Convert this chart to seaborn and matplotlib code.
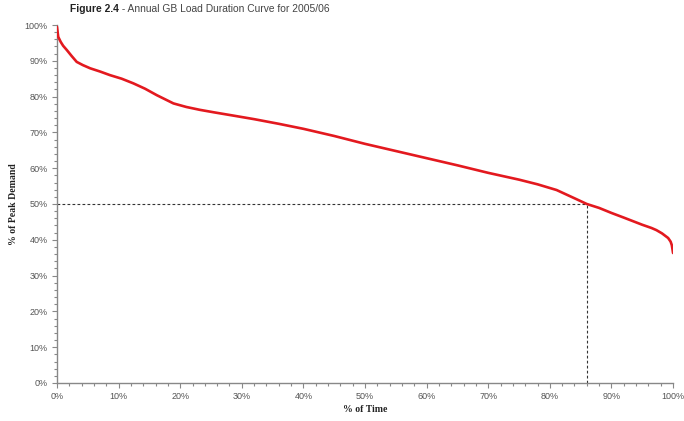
import matplotlib
matplotlib.use("Agg")
import matplotlib.pyplot as plt
from matplotlib.ticker import MultipleLocator, PercentFormatter
import seaborn as sns
import pandas as pd

# Load duration curve: share of the year (%) vs. demand as % of peak
time_pct = [0.0, 0.2, 0.6, 1.0, 1.6, 2.4, 3.2, 4.2, 5.4, 7.0, 8.6, 10.5, 12.4,
            14.3, 16.2, 18.9, 21.0, 23.2, 25.5, 28.6, 32.0, 36.0, 40.0, 45.0,
            50.0, 55.0, 60.0, 65.0, 70.0, 75.0, 78.0, 81.1, 84.0, 86.0, 88.0,
            90.0, 92.0, 93.5, 95.0, 96.5, 97.3, 98.2, 99.2, 99.6, 99.8, 100.0]
demand_pct = [99.5, 96.7, 95.3, 94.2, 93.0, 91.3, 89.7, 88.8, 87.9, 87.0, 86.0,
              85.0, 83.7, 82.2, 80.4, 78.1, 77.1, 76.3, 75.6, 74.7, 73.7, 72.4,
              71.0, 69.0, 66.8, 64.8, 62.8, 60.8, 58.7, 56.8, 55.5, 53.9, 51.6,
              50.0, 48.9, 47.5, 46.2, 45.2, 44.2, 43.3, 42.7, 41.8, 40.5, 39.5,
              38.5, 36.3]

median_time = 86.0
median_demand = 50.0

df = pd.DataFrame({"time": time_pct, "demand": demand_pct})

sns.set_style("white")
plt.rcParams["font.family"] = ["Liberation Sans", "DejaVu Sans"]

fig = plt.figure(figsize=(6.84, 4.21), dpi=100)
ax = fig.add_axes([0.0833, 0.0903, 0.9007, 0.8503])

sns.lineplot(data=df, x="time", y="demand", ax=ax, color="#e3191f",
             linewidth=1.9, zorder=3)

# Guide lines marking the 50 % demand point
ax.plot([0, median_time], [median_demand, median_demand], color="#333333",
        linestyle=(0, (2.5, 2)), linewidth=0.8, zorder=2)
ax.plot([median_time, median_time], [0, median_demand], color="#333333",
        linestyle=(0, (2.5, 2)), linewidth=0.8, zorder=2)

ax.set_xlim(0, 100)
ax.set_ylim(0, 100)
ax.xaxis.set_major_locator(MultipleLocator(10))
ax.yaxis.set_major_locator(MultipleLocator(10))
ax.xaxis.set_minor_locator(MultipleLocator(2))
ax.yaxis.set_minor_locator(MultipleLocator(2))
ax.xaxis.set_major_formatter(PercentFormatter(decimals=0))
ax.yaxis.set_major_formatter(PercentFormatter(decimals=0))

for side in ("top", "right"):
    ax.spines[side].set_visible(False)
for side in ("left", "bottom"):
    ax.spines[side].set_color("#888888")
    ax.spines[side].set_linewidth(1.0)

ax.tick_params(axis="both", which="major", direction="out", length=3.5,
               width=0.8, color="#888888", labelsize=6.5, labelcolor="#555555",
               pad=3)
ax.tick_params(axis="both", which="minor", direction="out", length=2,
               width=0.8, color="#888888")
ax.tick_params(axis="x", which="both", bottom=True)
ax.tick_params(axis="y", which="both", left=True)

ax.set_xlabel("% of Time", fontsize=7, fontweight="bold",
              family="Liberation Serif", color="#222222", labelpad=3)
ax.set_ylabel("% of Peak Demand", fontsize=7, fontweight="bold",
              family="Liberation Serif", color="#222222", labelpad=5)

# Title: bold figure number followed by the plain description
head = fig.text(0.102, 0.978, "Figure 2.4", fontsize=7.4, fontweight="bold",
                color="#222222", va="center", ha="left")
fig.canvas.draw()
bb = head.get_window_extent().transformed(fig.transFigure.inverted())
fig.text(bb.x1, 0.978, " - Annual GB Load Duration Curve for 2005/06",
         fontsize=7.4, color="#444444", va="center", ha="left")

fig.savefig("out.png", dpi=100, facecolor="white")
